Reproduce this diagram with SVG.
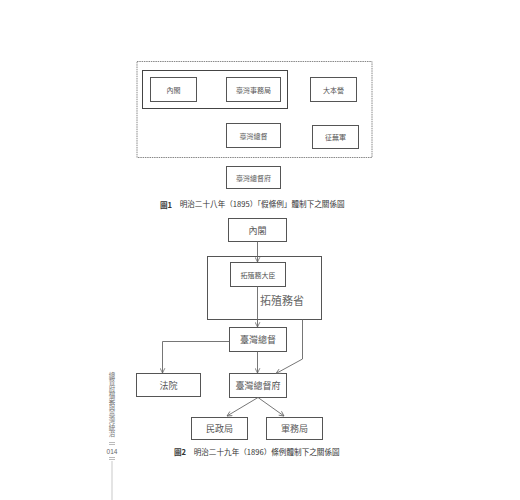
<svg xmlns="http://www.w3.org/2000/svg" width="520" height="500" viewBox="0 0 520 500">
<style>
.b{fill:#fff;stroke:#555;stroke-width:1}
.c{fill:none;stroke:#666;stroke-width:0.9}
.t{font-family:"Noto Sans CJK TC","Noto Sans CJK JP",sans-serif;fill:#555;text-anchor:middle;dominant-baseline:central}
.s{font-size:7px}
.m{font-size:9px}
.cap{font-family:"Noto Sans CJK TC","Noto Sans CJK JP",sans-serif;fill:#333;font-size:7.6px;dominant-baseline:central}
</style>
<defs>
<marker id="a" viewBox="0 0 10 10" refX="9" refY="5" markerWidth="6" markerHeight="6" orient="auto" markerUnits="userSpaceOnUse">
<path d="M1,1 L9,5 L1,9" fill="none" stroke="#666" stroke-width="1.3"/>
</marker>
</defs>
<rect width="520" height="500" fill="#fff"/>

<!-- Figure 1 -->
<g id="fig1-frame">
<rect x="137" y="61.5" width="235" height="96" fill="none" stroke="#888" stroke-width="1" stroke-dasharray="1.5,0.8"/>
<rect x="142.5" y="70.5" width="145" height="38" fill="none" stroke="#444" stroke-width="1"/>
</g>
<g id="f1-naikaku"><rect class="b" x="150.5" y="77.5" width="46" height="24"/><text class="t s" x="173.5" y="89.5">內閣</text></g>
<g id="f1-jimukyoku"><rect class="b" x="226.5" y="77.5" width="54" height="24"/><text class="t s" x="253.5" y="89.5">臺灣事務局</text></g>
<g id="f1-daihonei"><rect class="b" x="310.5" y="77.5" width="46" height="24"/><text class="t s" x="333.5" y="89.5">大本營</text></g>
<g id="f1-sotoku"><rect class="b" x="226.5" y="123.5" width="54" height="24"/><text class="t s" x="253.5" y="135.5">臺灣總督</text></g>
<g id="f1-seigun"><rect class="b" x="312.5" y="125.5" width="46" height="23"/><text class="t s" x="335.5" y="137">征蕪軍</text></g>
<g id="f1-sotokufu"><rect class="b" x="226.5" y="166.5" width="54" height="22"/><text class="t s" x="253.5" y="177.5">臺灣總督府</text></g>
<text class="cap" x="160" y="203.5"><tspan font-weight="bold">圖1</tspan>　明治二十八年（1895）「假條例」體制下之關係圖</text>

<!-- Figure 2 -->
<g id="f2-takushokusho"><rect class="b" x="207.5" y="256.5" width="114" height="63"/><text class="t" style="font-size:11px;fill:#666" x="282" y="300">拓殖務省</text></g>
<g id="f2-naikaku"><rect class="b" x="228.5" y="218.5" width="58" height="23"/><text class="t m" x="257.5" y="230">內閣</text></g>
<g id="f2-daijin"><rect class="b" x="230.5" y="262.5" width="55" height="24"/><text class="t s" x="258" y="274.5">拓殖務大臣</text></g>
<g id="f2-sotoku"><rect class="b" x="229.5" y="327.5" width="57" height="24"/><text class="t m" x="258" y="339.5">臺灣總督</text></g>
<g id="f2-hoin"><rect class="b" x="136.5" y="373.5" width="64" height="23"/><text class="t m" x="168.5" y="385">法院</text></g>
<g id="f2-sotokufu"><rect class="b" x="229.5" y="373.5" width="57" height="24"/><text class="t m" x="258" y="385.5">臺灣總督府</text></g>
<g id="f2-minsei"><rect class="b" x="191.5" y="417.5" width="56" height="22"/><text class="t m" x="219.5" y="428.5">民政局</text></g>
<g id="f2-gummu"><rect class="b" x="266.5" y="417.5" width="56" height="22"/><text class="t m" x="294.5" y="428.5">軍務局</text></g>

<g id="connectors">
<line class="c" x1="257.5" y1="241.5" x2="257.5" y2="262" marker-end="url(#a)"/>
<line class="c" x1="257.5" y1="286.5" x2="257.5" y2="327" marker-end="url(#a)"/>
<line class="c" x1="257.5" y1="351.5" x2="257.5" y2="373" marker-end="url(#a)"/>
<polyline class="c" points="229.5,341.5 162.5,341.5 162.5,373" marker-end="url(#a)"/>
<polyline class="c" points="302.5,319.5 302.5,359 276,373.5" marker-end="url(#a)"/>
<line class="c" x1="258" y1="397.5" x2="227" y2="416" marker-end="url(#a)"/>
<line class="c" x1="258" y1="397.5" x2="284" y2="416" marker-end="url(#a)"/>
</g>
<text class="cap" x="174" y="451"><tspan font-weight="bold">圖2</tspan>　明治二十九年（1896）條例體制下之關係圖</text>

<!-- side running head -->
<g id="running-head">
<text x="112" y="372" style="writing-mode:vertical-rl;font-family:'Noto Sans CJK TC',sans-serif;font-size:6.5px;fill:#777" text-anchor="start">總督府檔案與臺灣統治</text>
<line x1="109" y1="442.5" x2="115" y2="442.5" stroke="#aaa" stroke-width="0.8"/>
<line x1="109" y1="444.5" x2="115" y2="444.5" stroke="#aaa" stroke-width="0.8"/>
<text x="112" y="451" style="font-family:'Liberation Sans',sans-serif;font-size:6.5px;fill:#666" text-anchor="middle" dominant-baseline="central">014</text>
<line x1="109" y1="457.5" x2="115" y2="457.5" stroke="#aaa" stroke-width="0.8"/>
<line x1="109" y1="459.5" x2="115" y2="459.5" stroke="#aaa" stroke-width="0.8"/>
<line x1="112" y1="461" x2="112" y2="500" stroke="#bbb" stroke-width="0.8"/>
</g>
</svg>
